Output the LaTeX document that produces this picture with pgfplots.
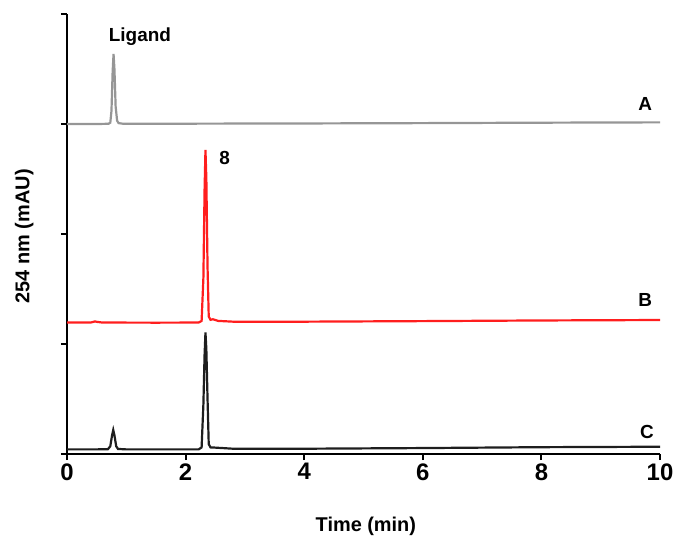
\documentclass[border=0pt]{standalone}
\usepackage{pgfplots}
\pgfplotsset{compat=1.18}
\usepackage{fontspec}
\setmainfont{Liberation Sans}

\definecolor{traceA}{RGB}{150,150,150}
\definecolor{traceB}{RGB}{255,30,30}
\definecolor{traceC}{RGB}{30,30,30}

\begin{document}
\begin{tikzpicture}
\begin{axis}[
  scale only axis,
  width=593bp, height=440bp,
  xmin=0, xmax=10, ymin=0, ymax=4,
  axis lines=left,
  axis line style={-, line width=2.6bp},
  xtick={0,2,4,6,8,10},
  ytick={0,1,2,3,4},
  yticklabels={},
  tick align=outside,
  major tick length=6bp,
  tick style={line width=2bp, black},
  /pgf/number format/assume math mode=true,
  tick label style={font=\bfseries\fontsize{24}{26}\selectfont},
  clip=false,
]
% A: ligand
\addplot[traceA, line width=2.2bp] coordinates {
  (0,3.0) (0.5,3.0) (0.70,3.002) (0.73,3.012) (0.75,3.12) (0.77,3.48) (0.785,3.636)
  (0.80,3.5) (0.82,3.16) (0.845,3.03) (0.87,3.008) (0.95,3.002) (2,3.003)
  (4,3.005) (6,3.008) (8,3.012) (10,3.015)
};
% B: complex 8
\addplot[traceB, line width=2.2bp] coordinates {
  (0,1.195) (0.40,1.195) (0.47,1.205) (0.52,1.2) (0.60,1.195) (1.5,1.194) (2.22,1.195)
  (2.27,1.21) (2.30,1.6) (2.32,2.4) (2.335,2.764) (2.35,2.5) (2.37,1.7)
  (2.39,1.25) (2.42,1.22) (2.46,1.225) (2.55,1.21) (2.8,1.203) (4,1.203)
  (6,1.208) (8,1.214) (10,1.218)
};
% C: mixture
\addplot[traceC, line width=2.2bp] coordinates {
  (0,0.042) (0.5,0.042) (0.69,0.044) (0.73,0.07) (0.76,0.17) (0.78,0.218)
  (0.80,0.17) (0.83,0.07) (0.86,0.046) (1.0,0.042) (2.22,0.042)
  (2.27,0.06) (2.30,0.45) (2.32,0.9) (2.335,1.106) (2.35,0.95) (2.37,0.5)
  (2.39,0.09) (2.42,0.06) (2.5,0.058) (2.8,0.048) (4,0.048) (6,0.054)
  (8,0.062) (10,0.066)
};
\node[font=\bfseries\fontsize{19}{21}\selectfont] at (axis cs:1.23,3.79) {Ligand};
\node[font=\bfseries\fontsize{19}{21}\selectfont] at (axis cs:2.66,2.69) {8};
\node[font=\bfseries\fontsize{19}{21}\selectfont] at (axis cs:9.75,3.18) {A};
\node[font=\bfseries\fontsize{19}{21}\selectfont] at (axis cs:9.75,1.40) {B};
\node[font=\bfseries\fontsize{19}{21}\selectfont] at (axis cs:9.78,0.20) {C};
\node[font=\bfseries\fontsize{20}{22}\selectfont, rotate=90] at (axis description cs:-0.072,0.495) {254 nm (mAU)};
\node[font=\bfseries\fontsize{20}{22}\selectfont] at (axis description cs:0.504,-0.164) {Time (min)};
\end{axis}
\path[use as bounding box] (-67bp,-86bp) rectangle (612bp,454bp);
\end{tikzpicture}
\end{document}
